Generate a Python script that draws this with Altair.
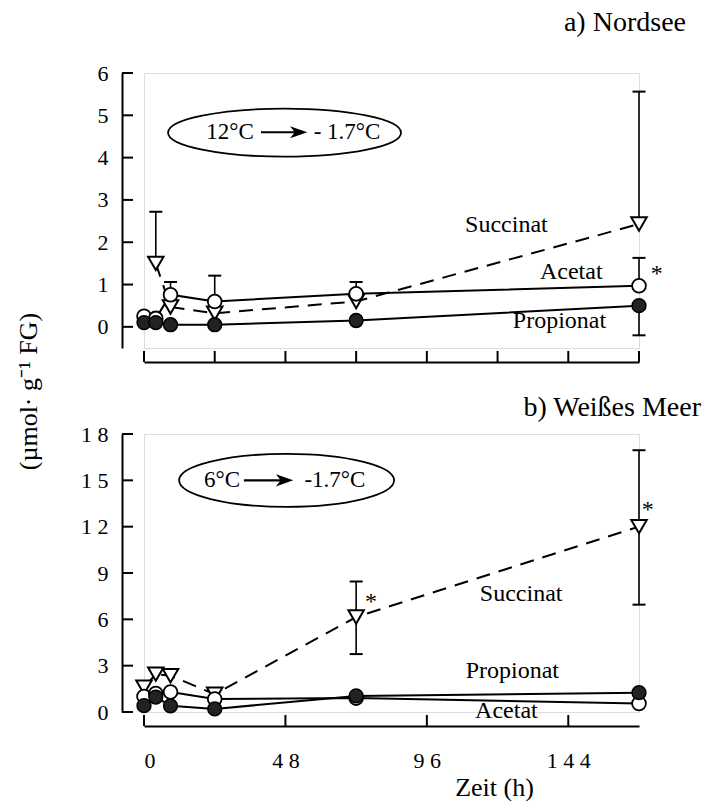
import altair as alt
import pandas as pd

FONT = "Liberation Serif"

# ---------------- data ----------------
times = [0, 4, 9, 24, 72, 168]

# a) Nordsee
prop_a = [0.10, 0.10, 0.05, 0.05, 0.15, 0.50]
acet_a = [0.25, 0.20, 0.76, 0.60, 0.78, 0.97]
succ_a_t = [4, 9, 24, 72, 168]
succ_a = [1.50, 0.47, 0.32, 0.60, 2.43]
err_a_t = [4, 168, 9, 24, 72, 168, 168]
err_a_from = [1.50, 2.43, 0.76, 0.60, 0.78, 0.97, 0.50]
err_a_to = [2.72, 5.56, 1.06, 1.21, 1.06, 1.63, -0.20]
star_a_t = [174]
star_a_v = [1.25]
lab_a_text = ["Succinat", "Acetat", "Propionat"]
lab_a_t = [123, 145, 141]
lab_a_v = [2.41, 1.30, 0.14]

# b) Weißes Meer
prop_b = [0.41, 0.97, 0.40, 0.20, 1.04, 1.25]
acet_b = [1.00, 1.20, 1.30, 0.84, 0.90, 0.55]
succ_b = [1.60, 2.45, 2.35, 1.15, 6.15, 12.0]
err_b_t = [72, 72, 168, 168]
err_b_from = [6.15, 6.15, 12.0, 12.0]
err_b_to = [8.45, 3.75, 16.95, 6.95]
star_b_t = [77, 171]
star_b_v = [7.1, 13.1]
lab_b_text = ["Succinat", "Propionat", "Acetat"]
lab_b_t = [128, 125, 123]
lab_b_v = [7.65, 2.65, 0.05]

# annotations (temperature shift)
ann_a = {"left": "12°C", "right": "- 1.7°C", "lt": 29.2, "rt": 68.9, "y": 4.6,
         "a0": 39.7, "a1": 55.0, "et": 47.7, "ey": 4.59}
ann_b = {"left": "6°C", "right": "-1.7°C", "lt": 26.5, "rt": 64.8, "y": 15.0,
         "a0": 33.9, "a1": 50.2, "et": 48.4, "ey": 15.0}

yticks_a = [0, 1, 2, 3, 4, 5, 6]
yticks_b = [0, 3, 6, 9, 12, 15, 18]
xticks_a = [0, 24, 48, 72, 96, 120, 144, 168]
xticks_b = [0, 48, 96, 144]

W = 495
H_A = 275
H_B = 278
LABEL_EXPR = "length(datum.label) > 1 ? join(split(datum.label, ''), ' ') : datum.label"


def panel(prop, acet, succ_t, succ, err_t, err_from, err_to, star_t, star_v,
          lab_text, lab_t, lab_v, ann, ydom, yticks, xticks, H, title, dx,
          toffset, bottom, ell_w, ell_h):
    xs = alt.Scale(domain=[0, 168], nice=False, zero=False)
    ys = alt.Scale(domain=ydom, nice=False, zero=False)
    if bottom:
        xaxis = alt.Axis(values=xticks, labelExpr=LABEL_EXPR, labelFont=FONT,
                         labelFontSize=22, labelColor="black", labelPadding=24,
                         ticks=False, tickSize=0, grid=False, offset=14,
                         domainColor="black", domainWidth=2,
                         title="Zeit (h)", titleFont=FONT, titleFontSize=26,
                         titleFontWeight="normal", titleColor="black",
                         titleX=350, titleY=69, titleAlign="center",
                         titleBaseline="alphabetic")
        yaxis = alt.Axis(values=yticks, labelExpr=LABEL_EXPR, labelFont=FONT,
                         labelFontSize=22, labelColor="black", labelPadding=14,
                         ticks=False, tickSize=0, grid=False, offset=22,
                         domainColor="black", domainWidth=2, title=None)
    else:
        xaxis = alt.Axis(values=xticks, labels=False, ticks=False, tickSize=0,
                         grid=False, offset=14, domainColor="black",
                         domainWidth=2, title=None)
        yaxis = alt.Axis(values=yticks, labelExpr=LABEL_EXPR, labelFont=FONT,
                         labelFontSize=22, labelColor="black", labelPadding=14,
                         ticks=False, tickSize=0, grid=False, offset=22,
                         domainColor="black", domainWidth=2,
                         title="(µmol· g⁻¹ FG)", titleFont=FONT,
                         titleFontSize=26, titleFontWeight="normal",
                         titleColor="black", titleAngle=270, titleX=-94,
                         titleY=318, titleAlign="center",
                         titleBaseline="middle")

    def X(f):
        return alt.X(f, type="quantitative", scale=xs, axis=xaxis)

    def Y(f):
        return alt.Y(f, type="quantitative", scale=ys, axis=yaxis)

    df_solid = pd.concat([
        pd.DataFrame({"t": times, "v": prop, "s": "Propionat"}),
        pd.DataFrame({"t": times, "v": acet, "s": "Acetat"}),
    ])
    df_prop = pd.DataFrame({"t": times, "v": prop})
    df_acet = pd.DataFrame({"t": times, "v": acet})
    df_succ = pd.DataFrame({"t": succ_t, "v": succ})
    df_err = pd.DataFrame({"t": err_t, "lo": err_from, "hi": err_to})
    df_star = pd.DataFrame({"t": star_t, "v": star_v})
    df_lab = pd.DataFrame({"t": lab_t, "v": lab_v, "txt": lab_text})
    df_xt = pd.DataFrame({"t": xticks})
    df_yt = pd.DataFrame({"v": yticks})
    df_ann_txt = pd.DataFrame({"t": [ann["lt"], ann["rt"]], "v": [ann["y"], ann["y"]],
                               "txt": [ann["left"], ann["right"]]})
    df_arrow = pd.DataFrame({"t": [ann["a0"]], "t2": [ann["a1"] - 2.0], "v": [ann["y"]]})
    df_head = pd.DataFrame({"t": [ann["a1"] - 2.5], "v": [ann["y"]]})
    df_ell = pd.DataFrame({"t": [ann["et"]], "v": [ann["ey"]]})
    df_title = pd.DataFrame({"txt": [title]})

    ratio = ell_h / ell_w
    ell_path = f"M-1,0 A1,{ratio:.4f} 0 1,1 1,0 A1,{ratio:.4f} 0 1,1 -1,0 Z"

    layers = []
    # inward ticks
    layers.append(alt.Chart(df_xt).mark_rule(color="black", strokeWidth=2).encode(
        x=X("t"), y=alt.value(H + 14), y2=alt.value(H + 3)))
    layers.append(alt.Chart(df_yt).mark_rule(color="black", strokeWidth=2).encode(
        y=Y("v"), x=alt.value(-22), x2=alt.value(-11)))
    # lines
    layers.append(alt.Chart(df_solid).mark_line(color="black", strokeWidth=2).encode(
        x=X("t"), y=Y("v"), detail="s:N"))
    layers.append(alt.Chart(df_succ).mark_line(color="black", strokeWidth=2,
                                               strokeDash=[14, 9]).encode(
        x=X("t"), y=Y("v")))
    # error bars
    layers.append(alt.Chart(df_err).mark_rule(color="black", strokeWidth=1.6).encode(
        x=X("t"), y=Y("lo"), y2="hi"))
    layers.append(alt.Chart(df_err).mark_point(shape="M-1,0L1,0", size=169, filled=False,
                                               color="black", strokeWidth=2,
                                               opacity=1).encode(
        x=X("t"), y=Y("hi")))
    # markers
    layers.append(alt.Chart(df_succ).mark_point(shape="triangle-down", size=240,
                                                filled=True, fill="white",
                                                stroke="black", strokeWidth=2,
                                                opacity=1).encode(
        x=X("t"), y=Y("v")))
    layers.append(alt.Chart(df_acet).mark_point(shape="circle", size=190, filled=True,
                                                fill="white", stroke="black",
                                                strokeWidth=1.8, opacity=1).encode(
        x=X("t"), y=Y("v")))
    layers.append(alt.Chart(df_prop).mark_point(shape="circle", size=190, filled=True,
                                                fill="#222222", stroke="black",
                                                strokeWidth=1.5, opacity=1).encode(
        x=X("t"), y=Y("v")))
    # asterisks
    layers.append(alt.Chart(df_star).mark_text(text="*", font=FONT, fontSize=24,
                                               color="black", baseline="middle").encode(
        x=X("t"), y=Y("v")))
    # series labels
    layers.append(alt.Chart(df_lab).mark_text(font=FONT, fontSize=24, color="black",
                                              baseline="middle").encode(
        x=X("t"), y=Y("v"), text="txt:N"))
    # temperature annotation
    layers.append(alt.Chart(df_ell).mark_point(shape=ell_path, size=ell_w * ell_w,
                                               filled=False, color="black",
                                               strokeWidth=1.8, opacity=1).encode(
        x=X("t"), y=Y("v")))
    layers.append(alt.Chart(df_ann_txt).mark_text(font=FONT, fontSize=23, color="black",
                                                  baseline="middle").encode(
        x=X("t"), y=Y("v"), text="txt:N"))
    layers.append(alt.Chart(df_arrow).mark_rule(color="black", strokeWidth=2.2).encode(
        x=X("t"), x2="t2", y=Y("v")))
    layers.append(alt.Chart(df_head).mark_point(shape="M-1,-0.7 L1,0 L-1,0.7 L-0.45,0 Z",
                                                size=300, filled=True, color="black",
                                                opacity=1).encode(
        x=X("t"), y=Y("v")))
    # panel title
    layers.append(alt.Chart(df_title).mark_text(font=FONT, fontSize=28, color="black",
                                                align="right",
                                                baseline="alphabetic").encode(
        x=alt.value(W + dx), y=alt.value(-toffset), text="txt:N"))

    return alt.layer(*layers).properties(width=W, height=H)


top = panel(prop_a, acet_a, succ_a_t, succ_a, err_a_t, err_a_from, err_a_to,
            star_a_t, star_a_v, lab_a_text, lab_a_t, lab_a_v, ann_a,
            [-0.5, 6], yticks_a, xticks_a, H_A, "a) Nordsee", 47, 42, False, 233, 48)
bot = panel(prop_b, acet_b, times, succ_b, err_b_t, err_b_from, err_b_to,
            star_b_t, star_b_v, lab_b_text, lab_b_t, lab_b_v, ann_b,
            [0, 18], yticks_b, xticks_b, H_B, "b) Weißes Meer", 62, 18, True, 215, 53)

chart = alt.vconcat(top, bot, spacing=86, bounds="flush").properties(
    padding={"left": 14, "top": 8, "right": 0, "bottom": 0}
).configure_view(stroke=None).configure(background="white")

chart.save("out.html", embed_options={"renderer": "svg", "actions": False})
